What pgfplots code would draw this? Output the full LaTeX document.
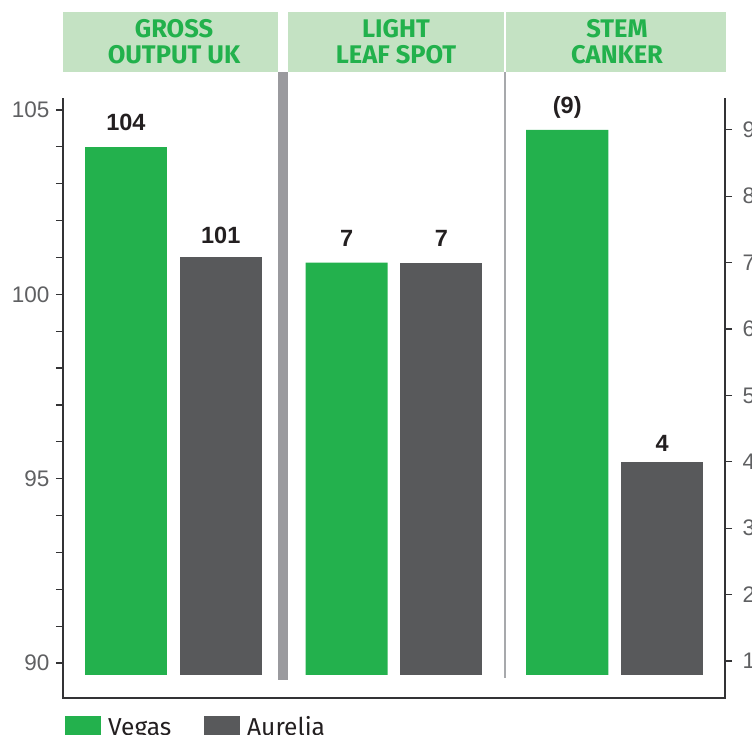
\documentclass[border=0pt]{standalone}
\usepackage{fontspec}
\usepackage{pgfplots}
\pgfplotsset{compat=1.18}
\setmainfont{Liberation Sans}
\newfontfamily\firafont{Fira Sans}

\definecolor{vgreen}{HTML}{23B14D}
\definecolor{adark}{HTML}{58595B}
\definecolor{hdbg}{HTML}{C4E2C3}
\definecolor{hdtext}{HTML}{22B14C}
\definecolor{sepgray}{HTML}{9A9A9E}
\definecolor{thingray}{HTML}{A7A9AC}
\definecolor{axcol}{HTML}{333335}
\definecolor{tickcol}{HTML}{5F6062}
\definecolor{labcol}{HTML}{231F20}

\pgfplotsset{
  panel/.style={
    at={(63pt,60pt)}, anchor=south west,
    scale only axis, width=662pt, height=577pt,
    xmin=-0.5, xmax=2.5,
    axis x line=none,
    axis line style={draw=axcol, line width=1.6pt, -},
    tick align=outside,
    major tick length=7pt, minor tick length=7pt,
    every tick/.style={draw=axcol, line width=1.2pt},
    tick label style={font=\fontsize{22.5}{24}\selectfont, text=tickcol},
    /pgf/number format/assume math mode=true,
    bar width=0.372,
    nodes near coords,
    point meta=explicit symbolic,
    every node near coord/.append style={font=\fontsize{23.5}{24}\selectfont\bfseries,
      text=labcol, anchor=base, yshift=16pt},
  },
  vegas/.style={ybar, fill=vgreen, draw=none, bar shift=-0.215,
    every node near coord/.append style={xshift=-47.4pt}},
  aurelia/.style={ybar, fill=adark, draw=none, bar shift=0.215,
    every node near coord/.append style={xshift=47.4pt}},
}

\begin{document}
\begin{tikzpicture}
\useasboundingbox (0,0) rectangle (752pt,735pt);
\clip (0,0) rectangle (752pt,735pt);

% panel headers
\fill[hdbg] (63pt,663pt) rectangle (278pt,723pt);
\fill[hdbg] (288pt,663pt) rectangle (504pt,723pt);
\fill[hdbg] (506pt,663pt) rectangle (726pt,723pt);
\begin{scope}[every node/.style={font=\firafont\bfseries\fontsize{25.5}{26}\selectfont, text=hdtext, anchor=base, inner sep=0pt}]
\node at (174pt,697.5pt) {GROSS};
\node at (174pt,671.5pt) {OUTPUT UK};
\node at (396pt,697.5pt) {LIGHT};
\node at (396pt,671.5pt) {LEAF SPOT};
\node at (617pt,697.5pt) {STEM};
\node at (617pt,671.5pt) {CANKER};
\end{scope}

% separators
\fill[sepgray] (278pt,55pt) rectangle (288pt,663pt);
\fill[thingray] (504pt,57pt) rectangle (506pt,663pt);

% left scale: gross output
\begin{axis}[panel,
  ymin=89.675, ymax=105.325,
  axis y line*=left,
  ytick={90,95,100,105},
  minor y tick num=4,
  yticklabel style={xshift=-3pt},
]
\addplot[vegas] coordinates {(0,104) [104]};
\addplot[aurelia, every node near coord/.append style={yshift=-2pt}] coordinates {(0,101) [101]};
\end{axis}

% right scale: disease ratings
\begin{axis}[panel,
  ymin=0.789, ymax=9.479,
  axis y line*=right,
  ytick={1,2,3,4,5,6,7,8,9},
  yticklabel style={xshift=7pt},
]
\addplot[vegas] coordinates {(1,7) [7] (2,9) [(9)]};
\addplot[aurelia] coordinates {(1,7) [7]};
\addplot[aurelia, every node near coord/.append style={yshift=-6pt}] coordinates {(2,4) [4]};
\end{axis}

% bottom frame below the bars
\draw[axcol, line width=1.6pt] (63pt,60.8pt) -- (63pt,37pt) -- (725pt,37pt) -- (725pt,60.8pt);

% legend
\fill[vgreen] (65pt,-5pt) rectangle (101pt,19pt);
\fill[adark] (204pt,-5pt) rectangle (240pt,19pt);
\node[anchor=base west, inner sep=0pt, font=\firafont\fontsize{24.5}{26}\selectfont, text=labcol] at (108pt,-1pt) {Vegas};
\node[anchor=base west, inner sep=0pt, font=\firafont\fontsize{24.5}{26}\selectfont, text=labcol] at (247pt,-1pt) {Aurelia};
\end{tikzpicture}
\end{document}
